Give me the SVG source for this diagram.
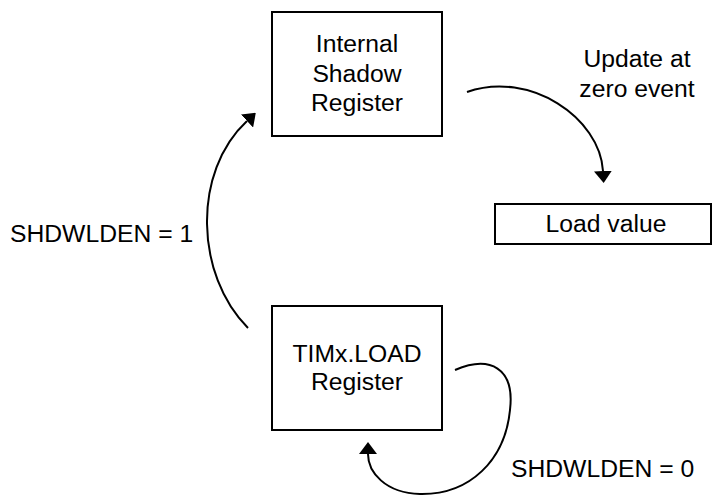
<svg xmlns="http://www.w3.org/2000/svg" width="713" height="496" viewBox="0 0 713 496">
  <style>
    .box { fill: #ffffff; stroke: #000000; stroke-width: 2; }
    .lbl { font-family: "Liberation Sans", Arial, sans-serif; font-size: 24.7px; fill: #000000; text-anchor: middle; }
    .lbl-l { font-family: "Liberation Sans", Arial, sans-serif; font-size: 24.7px; fill: #000000; }
    .conn { fill: none; stroke: #000000; stroke-width: 2; }
  </style>
  <defs>
    <marker id="arrow" markerUnits="userSpaceOnUse" markerWidth="12" markerHeight="18" viewBox="0 0 12 18" refX="0" refY="9" orient="auto">
      <path d="M0,0 L12,9 L0,18 z" fill="#000000"/>
    </marker>
  </defs>
  <rect width="713" height="496" fill="#ffffff"/>

  <g id="shadow-register">
    <rect class="box" x="272" y="12" width="170" height="124"/>
    <text class="lbl" x="357" y="52">Internal</text>
    <text class="lbl" x="357" y="82">Shadow</text>
    <text class="lbl" x="357" y="111">Register</text>
  </g>

  <g id="load-value">
    <rect class="box" x="495" y="204" width="216" height="40"/>
    <text class="lbl" x="606" y="232">Load value</text>
  </g>

  <g id="timx-load-register">
    <rect class="box" x="272" y="306" width="170" height="124"/>
    <text class="lbl" x="357" y="362">TIMx.LOAD</text>
    <text class="lbl" x="357" y="390">Register</text>
  </g>

  <g id="connectors">
    <path class="conn" d="M467,92 C530,70 600,118 603,171" marker-end="url(#arrow)"/>
    <path class="conn" d="M248,328 C195,275 192,172 247,121" marker-end="url(#arrow)"/>
    <path class="conn" d="M455,370 C490,355 515,368 510,410 C505,460 470,495 420,494 C385,493 368,472 368,454" marker-end="url(#arrow)"/>
  </g>

  <g id="labels">
    <text class="lbl" x="637" y="67">Update at</text>
    <text class="lbl" x="637" y="97">zero event</text>
    <text class="lbl-l" x="10" y="242">SHDWLDEN = 1</text>
    <text class="lbl-l" x="511" y="477">SHDWLDEN = 0</text>
  </g>
</svg>
